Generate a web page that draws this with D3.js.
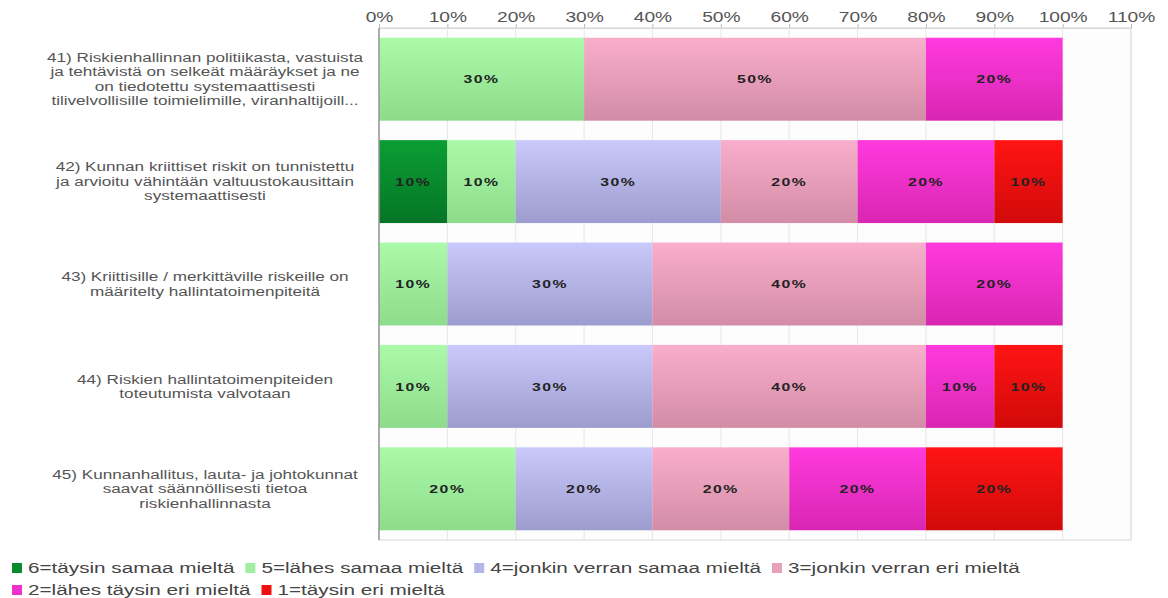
<!DOCTYPE html>
<html>
<head>
<meta charset="utf-8">
<script src="https://cdn.jsdelivr.net/npm/d3@7"></script>
<style>
  html, body { margin: 0; padding: 0; background: #fff; }
  svg { display: block; }
  text { font-family: "Liberation Sans", Arial, sans-serif; }
</style>
</head>
<body>
<svg id="chart" width="1168" height="598"></svg>
<script>
// Statements (y axis)
const categories = [
  "41) Riskienhallinnan politiikasta, vastuista\nja tehtävistä on selkeät määräykset ja ne\non tiedotettu systemaattisesti\ntilivelvollisille toimielimille, viranhaltijoill...",
  "42) Kunnan kriittiset riskit on tunnistettu\nja arvioitu vähintään valtuustokausittain\nsystemaattisesti",
  "43) Kriittisille / merkittäville riskeille on\nmääritelty hallintatoimenpiteitä",
  "44) Riskien hallintatoimenpiteiden\ntoteutumista valvotaan",
  "45) Kunnanhallitus, lauta- ja johtokunnat\nsaavat säännöllisesti tietoa\nriskienhallinnasta"
];

// Answer options (series), from "fully agree" to "fully disagree"
const seriesNames = [
  "6=täysin samaa mieltä",
  "5=lähes samaa mieltä",
  "4=jonkin verran samaa mieltä",
  "3=jonkin verran eri mieltä",
  "2=lähes täysin eri mieltä",
  "1=täysin eri mieltä"
];

// Share of answers (%) per statement, one array per answer option
const s6 = [0, 10, 0, 0, 0];
const s5 = [30, 10, 10, 10, 20];
const s4 = [0, 30, 30, 30, 20];
const s3 = [50, 20, 40, 40, 20];
const s2 = [20, 20, 20, 10, 20];
const s1 = [0, 10, 0, 10, 20];
const seriesValues = [s6, s5, s4, s3, s2, s1];

const tickValues = [0, 10, 20, 30, 40, 50, 60, 70, 80, 90, 100, 110];

// Colour pairs (top, bottom) for the vertical gradient of each series
const colorTop = ["#0a9e34", "#aafaaa", "#c9c9fb", "#f9aecb", "#ff3ade", "#ff1414"];
const colorBottom = ["#067526", "#8cdc8c", "#9c9cce", "#d28ca6", "#d926b2", "#d20a0a"];
const legendColor = ["#0a8a2e", "#a0eea0", "#b4b4e6", "#e8a0bc", "#f030cc", "#ee1010"];

// Wide lettering: glyphs are drawn stretched horizontally
const SX = 1.37;

const svg = d3.select("#chart");
const margin = { left: 379, right: 37, top: 28, bottom: 58 };
const W = 1168, H = 598;
const plotW = W - margin.left - margin.right;
const plotH = H - margin.top - margin.bottom;

const x = d3.scaleLinear().domain([0, 110]).range([margin.left, margin.left + plotW]);
const y = d3.scaleBand().domain(d3.range(categories.length))
  .range([margin.top, margin.top + plotH]).paddingInner(0.19).paddingOuter(0.095);

// Gradients
const defs = svg.append("defs");
seriesNames.forEach((n, i) => {
  const g = defs.append("linearGradient").attr("id", "grad" + i)
    .attr("x1", 0).attr("y1", 0).attr("x2", 0).attr("y2", 1);
  g.append("stop").attr("offset", "0%").attr("stop-color", colorTop[i]);
  g.append("stop").attr("offset", "100%").attr("stop-color", colorBottom[i]);
});

// Plot background and grid
svg.append("rect").attr("x", margin.left).attr("y", margin.top)
  .attr("width", plotW).attr("height", plotH).attr("fill", "#fdfdfd")
  .attr("stroke", "#d6d6d6");

const xAxis = d3.axisTop(x).tickValues(tickValues).tickFormat(d => d + "%")
  .tickSize(4).tickPadding(5);
const gx = svg.append("g").attr("transform", `translate(0,${margin.top})`).call(xAxis);
gx.select(".domain").attr("stroke", "#d6d6d6");
gx.selectAll(".tick line").attr("stroke", "#b8b8b8");
gx.selectAll(".tick text").attr("fill", "#555").attr("font-size", 14)
  .attr("font-family", "\"Liberation Sans\", Arial, sans-serif")
  .attr("transform", d => `translate(0,${-10}) scale(${SX},1)`)
  .attr("y", 0).attr("dy", "0.32em");

svg.append("g").selectAll("line").data(tickValues.slice(1))
  .join("line")
  .attr("x1", d => x(d)).attr("x2", d => x(d))
  .attr("y1", margin.top).attr("y2", margin.top + plotH)
  .attr("stroke", "#e6e6e6");

// Stacked bars
const rows = categories.map((c, ci) => {
  let acc = 0;
  return seriesValues.map((vals, si) => {
    const v = vals[ci];
    const seg = { ci, si, x0: acc, x1: acc + v, v };
    acc += v;
    return seg;
  }).filter(s => s.v > 0);
});
const segs = rows.flat();

svg.append("g").selectAll("rect").data(segs).join("rect")
  .attr("x", d => x(d.x0))
  .attr("y", d => y(d.ci))
  .attr("width", d => x(d.x1) - x(d.x0))
  .attr("height", y.bandwidth())
  .attr("fill", d => `url(#grad${d.si})`);

svg.append("g").selectAll("text").data(segs).join("text")
  .attr("transform", d => `translate(${(x(d.x0) + x(d.x1)) / 2},${y(d.ci) + y.bandwidth() / 2}) scale(${SX},1)`)
  .attr("dy", "0.36em")
  .attr("text-anchor", "middle")
  .attr("font-size", 11.5).attr("font-weight", "bold")
  .attr("letter-spacing", "1.1px")
  .attr("fill", "#222")
  .text(d => d.v + "%");

// Left axis line
svg.append("line").attr("x1", margin.left).attr("x2", margin.left)
  .attr("y1", margin.top).attr("y2", margin.top + plotH)
  .attr("stroke", "#999").attr("stroke-width", 1.5);

// Category labels
const lineH = 14.5;
const labels = svg.append("g").selectAll("text").data(categories).join("text")
  .attr("transform", (d, i) => `translate(205,${y(i) + y.bandwidth() / 2}) scale(${SX},1)`)
  .attr("text-anchor", "middle")
  .attr("font-size", 12.5)
  .attr("fill", "#555");
labels.each(function(d) {
  const lines = d.split("\n");
  const t = d3.select(this);
  lines.forEach((ln, k) => {
    t.append("tspan").attr("x", 0)
      .attr("y", (k - (lines.length - 1) / 2) * lineH)
      .attr("dy", "0.35em").text(ln);
  });
});

// Legend, four items on the first row
const legend = svg.append("g");
let lx = 12, ly = 568;
seriesNames.forEach((n, i) => {
  if (i === 4) { lx = 12; ly += 22; }
  const g = legend.append("g").attr("transform", `translate(${lx},${ly})`);
  g.append("rect").attr("x", 0).attr("y", -5).attr("width", 10).attr("height", 10)
    .attr("fill", legendColor[i]);
  const txt = g.append("text")
    .attr("transform", `translate(16,0) scale(${SX},1)`)
    .attr("dy", "0.36em")
    .attr("font-size", 15.1).attr("fill", "#444").text(n);
  lx += 16 + txt.node().getComputedTextLength() * SX + 11;
});
</script>
</body>
</html>
